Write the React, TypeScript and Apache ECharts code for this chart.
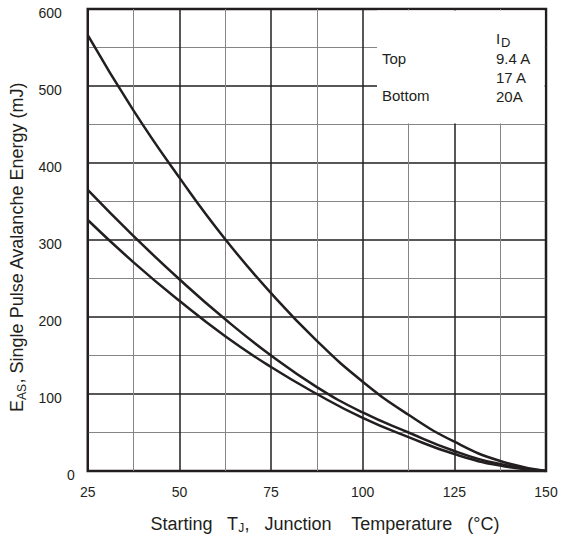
import React, { useEffect, useRef } from "react";
import * as echarts from "echarts";

// Data
const temps = [25, 37.5, 50, 62.5, 75, 87.5, 100, 112.5, 125, 137.5, 150];
const eas94A = [566, 468, 381, 301, 231, 169, 116, 73, 38, 13, 0];
const eas17A = [365, 305, 249, 197, 150, 109, 76, 50, 26, 9, 0];
const eas20A = [326, 271, 221, 175, 135, 100, 69, 44, 22, 7, 0];
const currentLabels = ["9.4 A", "17 A", "20A"];
const positionLabels = ["Top", "Bottom"];
const xMin = 25;
const xMax = 150;
const xStep = 25;
const yMin = 0;
const yMax = 600;
const yStep = 100;

const FONT = "'Liberation Sans', Arial, Helvetica, sans-serif";
const INK = "#231f20";

const W = 561;
const H = 540;
const G = { left: 86, right: 15, top: 9, bottom: 69 };

function toXY(xs: number[], ys: number[]) {
  return xs.map((x, i) => [x, ys[i]]);
}

export default function App() {
  const ref = useRef<HTMLDivElement>(null);
  useEffect(() => {
    document.body.style.margin = "0";
    if (!ref.current) return;
    const chart = echarts.init(ref.current, undefined, { renderer: "svg" });
    const plotRight = W - G.right;
    const boxLeft = 377;
    const lineStyle = { color: INK, width: 2.5 };
    const mkSeries = (name: string, ys: number[]) => ({
      name,
      type: "line",
      data: toXY(temps, ys),
      showSymbol: false,
      symbol: "none",
      smooth: 0.5,
      lineStyle,
      z: 5,
    });
    const text = (t: string, x: number, y: number, size = 15) => ({
      type: "text",
      x,
      y,
      z: 10,
      style: {
        text: t,
        fill: INK,
        font: `${size}px ${FONT}`,
        textVerticalAlign: "middle",
        textAlign: "left",
      },
    });
    chart.setOption({
      animation: false,
      backgroundColor: "#fff",
      grid: {
        ...G,
        show: true,
        borderColor: INK,
        borderWidth: 2.5,
        backgroundColor: "#fff",
        containLabel: false,
      },
      xAxis: {
        type: "value",
        min: xMin,
        max: xMax,
        interval: xStep,
        axisLine: { show: false },
        axisTick: { show: false },
        axisLabel: { color: INK, fontSize: 14, fontFamily: FONT, margin: 14 },
        splitLine: { show: true, lineStyle: { color: INK, width: 1.5 } },
        minorTick: { show: false, splitNumber: 2 },
        minorSplitLine: { show: true, lineStyle: { color: "#858585", width: 1 } },
        name: "{m|Starting   T}{s|J}{m|,   Junction    Temperature   (°C)}",
        nameLocation: "middle",
        nameGap: 42,
        nameTextStyle: {
          padding: [0, 0, 0, 16],
          rich: {
            m: { fontSize: 18, fontFamily: FONT, color: INK },
            s: { fontSize: 12, fontFamily: FONT, color: INK, padding: [9, 0, 0, 0] },
          },
        },
      },
      yAxis: {
        type: "value",
        min: yMin,
        max: yMax,
        interval: yStep,
        axisLine: { show: false },
        axisTick: { show: false },
        axisLabel: {
          margin: 13,
          formatter: (v: number) => (v === 0 ? `{z|${v}}` : `{n|${v}}`),
          rich: {
            n: { fontSize: 14, fontFamily: FONT, color: INK, padding: [8, 13, 0, 0] },
            z: { fontSize: 14, fontFamily: FONT, color: INK, padding: [8, 0, 0, 0] },
          },
        },
        splitLine: { show: true, lineStyle: { color: INK, width: 1.5 } },
        minorTick: { show: false, splitNumber: 2 },
        minorSplitLine: { show: true, lineStyle: { color: "#858585", width: 1 } },
        name: "{m|E}{s|AS}{m|, Single Pulse Avalanche Energy (mJ)}",
        nameLocation: "middle",
        nameGap: 50,
        nameTextStyle: {
          padding: [0, 14, 0, 0],
          rich: {
            m: { fontSize: 18, fontFamily: FONT, color: INK },
            s: { fontSize: 12, fontFamily: FONT, color: INK, padding: [9, 0, 0, 0] },
          },
        },
      },
      graphic: [
        {
          type: "rect",
          z: 1,
          shape: { x: boxLeft, y: G.top + 1.4, width: plotRight - 1.4 - boxLeft, height: 123.6 - G.top - 1.4 },
          style: { fill: "#fff" },
        },
        text("I", 496, 38.5, 15),
        text("D", 501, 42.5, 13),
        text(currentLabels[0], 496, 58, 15),
        text(currentLabels[1], 496, 77, 15),
        text(currentLabels[2], 496, 96, 15),
        text(positionLabels[0], 382, 58, 15),
        text(positionLabels[1], 382, 95, 15),
      ],
      series: [
        mkSeries("9.4 A", eas94A),
        mkSeries("17 A", eas17A),
        mkSeries("20A", eas20A),
      ],
    });
    return () => chart.dispose();
  }, []);
  return <div ref={ref} style={{ width: W, height: H }} />;
}
